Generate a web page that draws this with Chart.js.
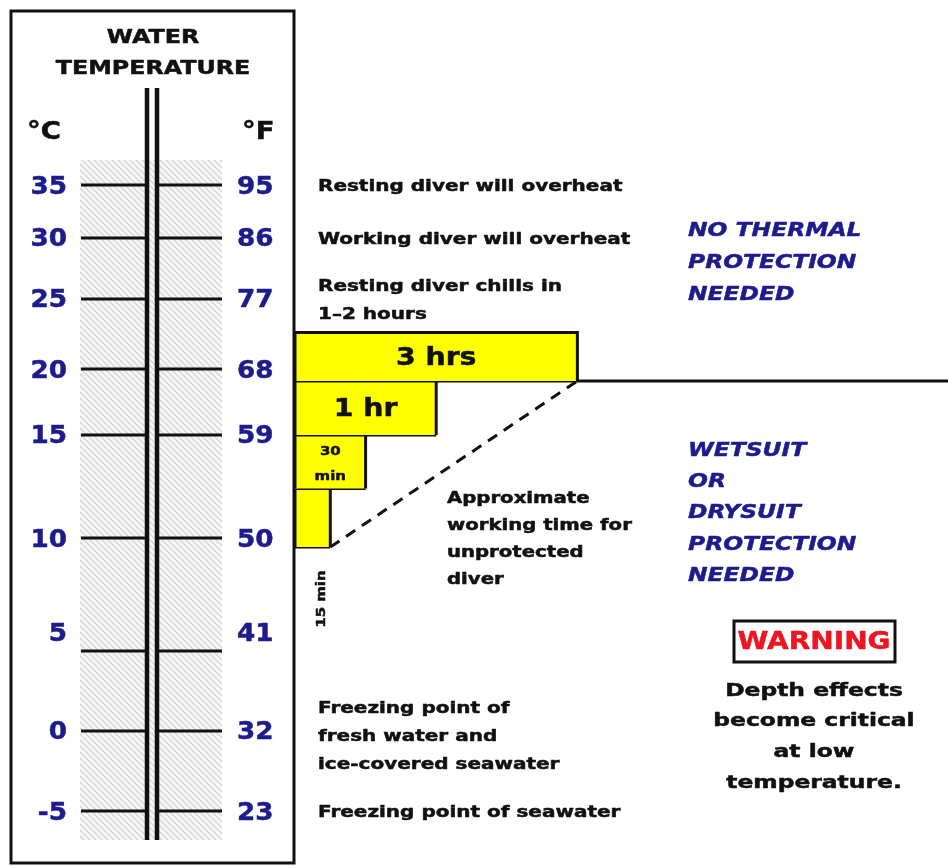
<!DOCTYPE html>
<html>
<head>
<meta charset="utf-8">
<title>Water temperature and diver protection</title>
<script src="https://cdn.jsdelivr.net/npm/chart.js"></script>
<style>
    html, body { margin: 0; padding: 0; background: #ffffff; }
    #wrap { width: 948px; height: 867px; position: relative; }
</style>
</head>
<body>
<div id="wrap"><canvas id="grafico"></canvas></div>
<script>
// escala del termometro
var celsius = [35, 30, 25, 20, 15, 10, 5, 0, -5];
var fahrenheit = [95, 86, 77, 68, 59, 50, 41, 32, 23];

// bloques de tiempo de trabajo sin proteccion (largo relativo)
var barLabels = ['3 hrs', '1 hr', '30 min', '15 min'];
var barLength = [8, 4, 2, 1];
var barTop = [22.6, 19.1, 15, 12.4];
var barBottom = [19.1, 15, 12.4, 9.6];

// limite de proteccion termica (linea horizontal)
var protectionLimit = 19.1;

// notas junto a la escala
var notesTemp = [35, 30, 25, 0, -5];
var notesText = [
    ['Resting diver will overheat'],
    ['Working diver will overheat'],
    ['Resting diver chills in', '1\u20132 hours'],
    ['Freezing point of', 'fresh water and', 'ice-covered seawater'],
    ['Freezing point of seawater']
];

// la escala del dibujo no es uniforme: tramos lineales entre marcas
var warpTemps = [37.4, 35, 30, 25, 20, 15, 10, 5, 0, -5, -6.8];
var warpFrac = [0, 0.0368, 0.1147, 0.2044, 0.3074, 0.4044, 0.5559, 0.7221, 0.8397, 0.9574, 1];

var FONT = '"DejaVu Sans", Verdana, sans-serif';
var NAVY = '#1c1c8c';
var INK = '#111111';

class WarpScale extends Chart.LinearScale {
    getPixelForValue(value) {
        var frac = value >= warpTemps[0] ? 0 : 1;
        for (var i = 0; i < warpTemps.length - 1; i++) {
            if (value <= warpTemps[i] && value >= warpTemps[i + 1]) {
                frac = warpFrac[i] + (warpFrac[i + 1] - warpFrac[i]) * (warpTemps[i] - value) / (warpTemps[i] - warpTemps[i + 1]);
                break;
            }
        }
        return this.top + frac * (this.bottom - this.top);
    }
    getValueForPixel(pixel) {
        var frac = (pixel - this.top) / (this.bottom - this.top);
        for (var i = 0; i < warpFrac.length - 1; i++) {
            if (frac >= warpFrac[i] && frac <= warpFrac[i + 1]) {
                return warpTemps[i] - (warpTemps[i] - warpTemps[i + 1]) * (frac - warpFrac[i]) / (warpFrac[i + 1] - warpFrac[i]);
            }
        }
        return frac < 0 ? warpTemps[0] : warpTemps[warpTemps.length - 1];
    }
}
WarpScale.id = 'warp';
WarpScale.defaults = Chart.LinearScale.defaults;
Chart.register(WarpScale);

function hatchPattern(ctx) {
    var pc = document.createElement('canvas');
    pc.width = 6;
    pc.height = 6;
    var p = pc.getContext('2d');
    p.fillStyle = '#f7f7f7';
    p.fillRect(0, 0, 6, 6);
    p.strokeStyle = '#cfcfcf';
    p.lineWidth = 1.2;
    p.beginPath();
    p.moveTo(-1, -1); p.lineTo(7, 7);
    p.moveTo(-1, 5); p.lineTo(1, 7);
    p.moveTo(5, -1); p.lineTo(7, 1);
    p.stroke();
    return ctx.createPattern(pc, 'repeat');
}

// texto ancho y pesado (imita una fuente tipo Arial Black)
function wideText(ctx, text, x, y, sx) {
    ctx.save();
    ctx.translate(x, y + 2);
    ctx.scale(sx, 1);
    ctx.strokeStyle = ctx.fillStyle;
    ctx.lineWidth = 0.5;
    ctx.lineJoin = 'round';
    ctx.strokeText(text, 0, 0);
    ctx.fillText(text, 0, 0);
    ctx.restore();
}

function drawLines(ctx, lines, x, yMid, lh, sx) {
    var y0 = yMid - (lines.length - 1) * lh / 2;
    for (var i = 0; i < lines.length; i++) {
        wideText(ctx, lines[i], x, y0 + i * lh, sx);
    }
}

var panelPlugin = {
    id: 'termometro',
    beforeDatasetsDraw: function(chart) {
        var ctx = chart.ctx;
        var ys = chart.scales.y;
        var area = chart.chartArea;
        ctx.save();

        // banda rayada
        ctx.fillStyle = hatchPattern(ctx);
        ctx.fillRect(80, area.top, 142, area.bottom - area.top);

        // titulo
        ctx.fillStyle = INK;
        ctx.textBaseline = 'middle';
        ctx.textAlign = 'center';
        ctx.font = 'bold 19px ' + FONT;
        wideText(ctx, 'WATER', 153, 36, 1.25);
        wideText(ctx, 'TEMPERATURE', 153, 67, 1.25);
        ctx.font = 'bold 25px ' + FONT;
        ctx.textAlign = 'left';
        wideText(ctx, '\u00b0C', 27, 130, 1.1);
        wideText(ctx, '\u00b0F', 242, 130, 1.1);

        // marcas y etiquetas
        ctx.font = 'bold 25px ' + FONT;
        for (var i = 0; i < celsius.length; i++) {
            var py = ys.getPixelForValue(celsius[i]);
            ctx.strokeStyle = INK;
            ctx.lineWidth = 3;
            ctx.beginPath();
            ctx.moveTo(81, py); ctx.lineTo(147, py);
            ctx.moveTo(157, py); ctx.lineTo(222, py);
            ctx.stroke();
            var ly = celsius[i] === 5 ? py - 19 : py;
            ctx.fillStyle = NAVY;
            ctx.textAlign = 'right';
            wideText(ctx, String(celsius[i]), 67, ly, 1.05);
            ctx.textAlign = 'left';
            wideText(ctx, String(fahrenheit[i]), 237, ly, 1.05);
        }

        // doble tubo
        ctx.strokeStyle = INK;
        ctx.lineWidth = 4.5;
        ctx.beginPath();
        ctx.moveTo(147, 88); ctx.lineTo(147, area.bottom);
        ctx.moveTo(157, 88); ctx.lineTo(157, area.bottom);
        ctx.stroke();

        // marco
        ctx.lineWidth = 3;
        ctx.strokeRect(11, 11, 283, 852);
        ctx.restore();
    },
    afterDatasetsDraw: function(chart) {
        var ctx = chart.ctx;
        var xs = chart.scales.x;
        var ys = chart.scales.y;
        ctx.save();
        ctx.fillStyle = INK;
        ctx.textBaseline = 'middle';

        // etiquetas de los bloques
        ctx.textAlign = 'center';
        for (var i = 0; i < barLabels.length; i++) {
            var cx = (xs.getPixelForValue(0) + xs.getPixelForValue(barLength[i])) / 2;
            var cy = (ys.getPixelForValue(barTop[i]) + ys.getPixelForValue(barBottom[i])) / 2;
            if (i < 2) {
                ctx.font = 'bold 24px ' + FONT;
                wideText(ctx, barLabels[i], cx, cy, 1.18);
            } else if (i === 2) {
                ctx.font = 'bold 13px ' + FONT;
                drawLines(ctx, barLabels[i].split(' '), cx, cy, 25, 1.15);
            } else {
                ctx.font = 'bold 13px ' + FONT;
                ctx.save();
                ctx.translate(xs.getPixelForValue(0) + 25, ys.getPixelForValue(barBottom[i]) + 52);
                ctx.rotate(-Math.PI / 2);
                wideText(ctx, barLabels[i], 0, 0, 1.15);
                ctx.restore();
            }
        }

        // notas de la escala
        ctx.textAlign = 'left';
        ctx.font = 'bold 16px ' + FONT;
        for (var n = 0; n < notesTemp.length; n++) {
            var my = ys.getPixelForValue(notesTemp[n]);
            if (notesText[n].length === 3) my += 4;
            drawLines(ctx, notesText[n], 318, my, 28, 1.25);
        }
        drawLines(ctx, ['Approximate', 'working time for', 'unprotected', 'diver'], 447, 537, 27, 1.23);

        // zonas de proteccion
        ctx.fillStyle = NAVY;
        ctx.font = 'italic bold 20px ' + FONT;
        drawLines(ctx, ['NO THERMAL', 'PROTECTION', 'NEEDED'], 688, 261, 32, 1.17);
        drawLines(ctx, ['WETSUIT', 'OR', 'DRYSUIT', 'PROTECTION', 'NEEDED'], 688, 511, 31.3, 1.17);

        // aviso
        ctx.strokeStyle = INK;
        ctx.lineWidth = 3;
        ctx.strokeRect(734, 621, 161, 41);
        ctx.fillStyle = '#ee1520';
        ctx.textAlign = 'center';
        ctx.font = 'bold 25px ' + FONT;
        wideText(ctx, 'WARNING', 814, 640, 1.12);
        ctx.fillStyle = INK;
        ctx.font = 'bold 18px ' + FONT;
        drawLines(ctx, ['Depth effects', 'become critical', 'at low', 'temperature.'], 814, 735, 30.7, 1.3);
        ctx.restore();
    }
};

// datasets: bloques amarillos, bordes inferiores, limite y linea punteada
var datasets = [];
for (var i = 0; i < barLabels.length; i++) {
    datasets.push({
        label: barLabels[i],
        data: [
            { x: 0, y: barBottom[i] },
            { x: 0, y: barTop[i] },
            { x: barLength[i], y: barTop[i] },
            { x: barLength[i], y: barBottom[i] }
        ],
        backgroundColor: '#ffff00',
        borderColor: INK,
        borderWidth: 3,
        fill: { value: barBottom[i] },
        pointRadius: 0,
        tension: 0,
        clip: 6
    });
}

var bottomEdges = [];
for (var i = 1; i < barLabels.length; i++) {
    bottomEdges.push({ x: barLength[i + 1] || 0, y: barBottom[i] });
    bottomEdges.push({ x: barLength[i], y: barBottom[i] });
    bottomEdges.push({ x: barLength[i], y: null });
}
datasets.push({
    label: 'bordes',
    data: bottomEdges,
    borderColor: INK,
    borderWidth: 3,
    fill: false,
    pointRadius: 0,
    spanGaps: false,
    clip: 6
});

datasets.push({
    label: 'limite',
    data: [{ x: 0, y: protectionLimit }, { x: 18.5, y: protectionLimit }],
    borderColor: INK,
    borderWidth: 3,
    fill: false,
    pointRadius: 0,
    clip: 6
});

datasets.push({
    label: 'tiempo aproximado',
    data: [
        { x: barLength[3], y: barBottom[3] },
        { x: barLength[0], y: barBottom[0] }
    ],
    borderColor: INK,
    borderWidth: 3,
    borderDash: [11, 8],
    fill: false,
    pointRadius: 0,
    clip: 6
});

new Chart(document.getElementById('grafico'), {
    type: 'line',
    data: { datasets: datasets },
    options: {
        responsive: true,
        maintainAspectRatio: false,
        animation: false,
        layout: { padding: { left: 295, top: 160, right: 0, bottom: 27 } },
        plugins: {
            legend: { display: false },
            tooltip: { enabled: false }
        },
        scales: {
            x: { type: 'linear', min: 0, max: 18.5, display: false },
            y: { type: 'warp', min: -6.8, max: 37.4, display: false }
        }
    },
    plugins: [panelPlugin]
});
</script>
</body>
</html>
